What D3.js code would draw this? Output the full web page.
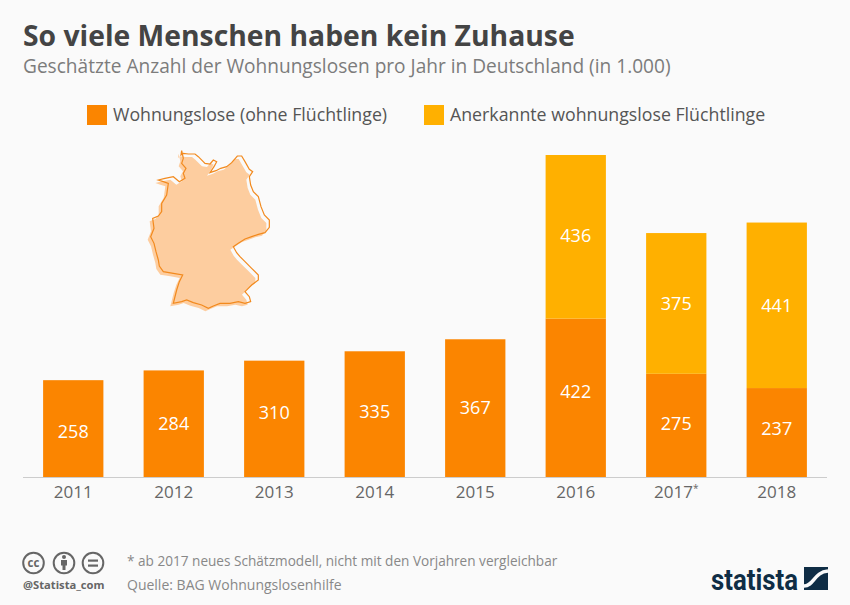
<!DOCTYPE html>
<html><head><meta charset="utf-8">
<script src="https://cdn.jsdelivr.net/npm/d3@7/dist/d3.min.js"></script>
<style>html,body{margin:0;padding:0;background:#fafafa}svg{display:block}text{font-family:"Open Sans",sans-serif}</style>
</head><body><svg id="c" width="850" height="605"></svg>
<script>
const years=["2011","2012","2013","2014","2015","2016","2017","2018"];
const wohnungslose=[258,284,310,335,367,422,275,237];
const fluechtlinge=[0,0,0,0,0,436,375,441];
const legendLabels=["Wohnungslose (ohne Flüchtlinge)","Anerkannte wohnungslose Flüchtlinge"];
const mapOutline=[[155,32],[153,45],[160,40],[175,42],[195,42],[205,50],[225,70],[240,72],[250,60],[260,65],[252,80],[240,98],[258,92],[272,85],[290,80],[305,68],[322,48],[335,48],[345,65],[358,88],[368,95],[358,110],[362,135],[370,155],[385,170],[393,200],[403,225],[418,240],[418,262],[405,278],[385,283],[365,290],[345,297],[325,310],[310,320],[320,338],[330,350],[345,365],[365,385],[385,405],[385,420],[365,435],[345,455],[358,470],[362,485],[345,490],[325,485],[300,490],[270,490],[250,498],[235,505],[215,495],[190,488],[170,480],[155,485],[130,490],[140,450],[148,425],[158,405],[130,400],[100,395],[88,378],[85,360],[78,335],[72,310],[62,290],[72,265],[68,235],[85,228],[95,215],[95,190],[110,165],[115,130],[100,125],[85,120],[105,115],[130,110],[148,125],[165,115],[160,100],[168,85],[155,70],[160,55]];
const ORANGE="#fb8500",YELLOW="#ffb000";
const svg=d3.select("#c");
svg.append("rect").attr("width",850).attr("height",605).attr("fill","#fafafa");
const x=d3.scaleBand().domain(years).range([23,827]).paddingInner(0.4).paddingOuter(0.2);
const y=d3.scaleLinear().domain([0,858]).range([477,155]);

svg.append("text").attr("x",23).attr("y",46).attr("font-size",28.3).attr("font-weight",700).attr("fill","#444").text("So viele Menschen haben kein Zuhause");
svg.append("text").attr("x",23).attr("y",73).attr("font-size",19.1).attr("fill","#7c7c7c").text("Geschätzte Anzahl der Wohnungslosen pro Jahr in Deutschland (in 1.000)");

const lg=[[87,ORANGE,113],[424,YELLOW,450]];
lg.forEach((l,i)=>{
 svg.append("rect").attr("x",l[0]).attr("y",105).attr("width",20).attr("height",20).attr("fill",l[1]);
 svg.append("text").attr("x",l[2]).attr("y",121).attr("font-size",17.75).attr("fill","#555").text(legendLabels[i]);
});

// Map of Germany
const mapX=d3.scaleLinear().domain([0,480]).range([130,290]);
const mapY=d3.scaleLinear().domain([0,540]).range([140,320]);
const ml=d3.line().x(d=>mapX(d[0])).y(d=>mapY(d[1])).curve(d3.curveLinearClosed);
svg.append("path").attr("d",ml(mapOutline)).attr("fill","#fdcd9f").attr("transform","translate(-3,3)");
svg.append("path").attr("d",ml(mapOutline)).attr("fill","none").attr("stroke","#f28a1e").attr("stroke-width",1.2);

// Baseline
svg.append("line").attr("x1",23).attr("x2",827).attr("y1",477.5).attr("y2",477.5).attr("stroke","#ccc");

const bars=svg.append("g");
bars.selectAll("rect.a").data(years).join("rect").attr("class","a").attr("x",d=>x(d)).attr("width",x.bandwidth())
 .attr("y",(d,i)=>y(wohnungslose[i])).attr("height",(d,i)=>y(0)-y(wohnungslose[i])).attr("fill",ORANGE);
bars.selectAll("rect.b").data(years.filter((d,i)=>fluechtlinge[i]>0)).join("rect").attr("class","b").attr("x",d=>x(d)).attr("width",x.bandwidth())
 .attr("y",d=>{const i=years.indexOf(d);return y(wohnungslose[i]+fluechtlinge[i]);})
 .attr("height",d=>{const i=years.indexOf(d);return y(0)-y(fluechtlinge[i]);}).attr("fill",YELLOW);

const lab=svg.append("g").attr("font-size",18).attr("fill","#fff").attr("text-anchor","middle");
const nudgeA=[3,0,-6,-2,0,-6,-1,-4], nudgeB=[0,0,0,0,0,-1,1,1];
years.forEach((d,i)=>{
 lab.append("text").attr("x",x(d)+x.bandwidth()/2).attr("y",(y(0)+y(wohnungslose[i]))/2+6+nudgeA[i]).text(wohnungslose[i]);
 if(fluechtlinge[i]>0) lab.append("text").attr("x",x(d)+x.bandwidth()/2).attr("y",(y(wohnungslose[i])+y(wohnungslose[i]+fluechtlinge[i]))/2+6+nudgeB[i]).text(fluechtlinge[i]);
});

const axis=d3.axisBottom(x).tickSize(0).tickPadding(0);
const ax=svg.append("g").attr("transform","translate(0,477)").call(axis);
ax.select(".domain").remove();
ax.selectAll("text").attr("y",21).attr("dy",0).attr("font-size",17).attr("font-family",'"Open Sans",sans-serif').attr("fill","#666");
ax.selectAll("text").filter(d=>d==="2017").append("tspan").attr("font-size",10).attr("dy",-6).text("*");

// CC icons
const ic=svg.append("g").attr("fill","none").attr("stroke","#666").attr("stroke-width",2);
[33.5,64,93].forEach(cx=>ic.append("circle").attr("cx",cx).attr("cy",563).attr("r",10.3));
svg.append("text").attr("x",33.5).attr("y",567).attr("text-anchor","middle").attr("font-size",11.5).attr("font-weight",700).attr("fill","#666").text("cc");
const g2=svg.append("g").attr("fill","#666");
g2.append("circle").attr("cx",64).attr("cy",557).attr("r",2);
g2.append("rect").attr("x",61).attr("y",560).attr("width",6).attr("height",5.5);
g2.append("rect").attr("x",62.5).attr("y",565).attr("width",3).attr("height",5);
g2.append("rect").attr("x",88).attr("y",559.5).attr("width",10).attr("height",2.2);
g2.append("rect").attr("x",88).attr("y",564.5).attr("width",10).attr("height",2.2);
svg.append("text").attr("x",23).attr("y",589).attr("font-size",11.2).attr("font-weight",700).attr("fill","#666").text("@Statista_com");

svg.append("text").attr("x",127).attr("y",566).attr("font-size",13.6).attr("fill","#888").text("* ab 2017 neues Schätzmodell, nicht mit den Vorjahren vergleichbar");
svg.append("text").attr("x",127).attr("y",590).attr("font-size",14).attr("fill","#888").text("Quelle: BAG Wohnungslosenhilfe");

// Logo
svg.append("text").attr("x",711).attr("y",590).attr("font-size",29).attr("font-weight",700).attr("fill","#0f2d45").style("font-family",'"Roboto",sans-serif').attr("textLength",87).attr("lengthAdjust","spacingAndGlyphs").text("statista");
svg.append("rect").attr("x",804).attr("y",567).attr("width",24).attr("height",23).attr("fill","#0f2d45");
svg.append("path").attr("d","M804,586 C814,586 814,572 828,571").attr("fill","none").attr("stroke","#fafafa").attr("stroke-width",3.5);
</script></body></html>
